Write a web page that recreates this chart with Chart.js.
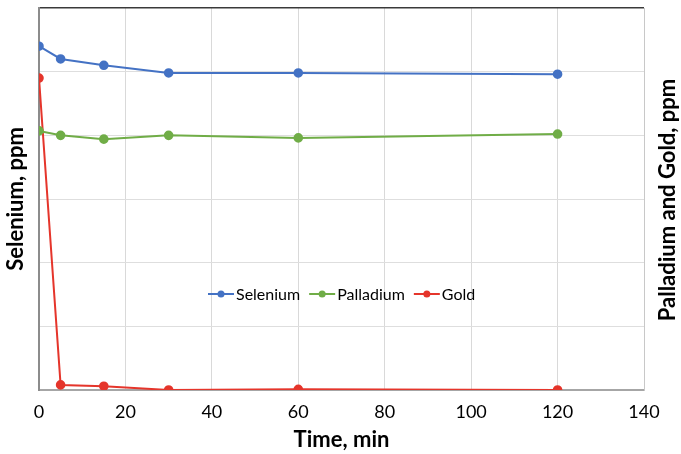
<!DOCTYPE html>
<html>
<head>
<meta charset="utf-8">
<script src="https://cdn.jsdelivr.net/npm/chart.js@4.4.1/dist/chart.umd.min.js"></script>
<style>
  html, body { margin: 0; padding: 0; background: #fff; }
  #wrap { width: 681px; height: 454px; }
</style>
</head>
<body>
<div id="wrap"><canvas id="chart-conc"></canvas></div>
<script>
// time points [min]
var timeMin = [0, 5, 15, 30, 60, 120];
// readings (no tick labels in the source, so axis units are relative)
var selenium = [5.40, 5.20, 5.10, 4.98, 4.98, 4.96];
var palladium = [4.07, 4.00, 3.94, 4.00, 3.96, 4.02];
var gold = [4.90, 0.08, 0.06, 0.00, 0.01, 0.00];

var xTicks = [0, 20, 40, 60, 80, 100, 120, 140];

var fontFam = "Lato, 'Open Sans', sans-serif";

function toPoints(arr) {
  return arr.map(function (v, i) { return { x: timeMin[i], y: v }; });
}

// legend sits inside the plot, and the right title reads bottom-to-top
var extrasPlugin = {
  id: 'extras',
  afterDraw: function (chart) {
    var ctx = chart.ctx;
    var area = chart.chartArea;
    ctx.save();

    // axis titles
    ctx.fillStyle = '#000';
    ctx.font = 'bold 22px ' + fontFam;
    ctx.textAlign = 'center';
    ctx.textBaseline = 'middle';
    ctx.fillText('Time, min', (area.left + area.right) / 2, 440);

    var midY = (area.top + area.bottom) / 2;
    ctx.save();
    ctx.translate(16, midY);
    ctx.rotate(-Math.PI / 2);
    ctx.fillText('Selenium, ppm', 0, 0);
    ctx.restore();

    ctx.save();
    ctx.translate(668, midY + 1);
    ctx.rotate(-Math.PI / 2);
    ctx.fillText('Palladium and Gold, ppm', 0, 0);
    ctx.restore();

    // legend
    ctx.font = '16px ' + fontFam;
    ctx.textAlign = 'left';
    var legY = 294;
    var x = 208;
    chart.data.datasets.forEach(function (ds) {
      ctx.strokeStyle = ds.borderColor;
      ctx.lineWidth = 2;
      ctx.beginPath();
      ctx.moveTo(x, legY);
      ctx.lineTo(x + 26, legY);
      ctx.stroke();
      ctx.fillStyle = ds.backgroundColor;
      ctx.beginPath();
      ctx.arc(x + 13, legY, 3.5, 0, Math.PI * 2);
      ctx.fill();
      ctx.fillStyle = '#000';
      ctx.fillText(ds.label, x + 28, legY + 1);
      x += 28 + ctx.measureText(ds.label).width + 9;
    });
    ctx.restore();
  }
};

var chart;

function initChart() {
  var ctx = document.getElementById('chart-conc').getContext('2d');
  chart = new Chart(ctx, {
    type: 'scatter',
    data: {
      datasets: [{
        label: 'Selenium',
        data: toPoints(selenium),
        borderColor: '#4472C4',
        backgroundColor: '#4472C4',
        borderWidth: 2,
        pointRadius: 3.8,
        showLine: true,
        yAxisID: 'y'
      },
      {
        label: 'Palladium',
        data: toPoints(palladium),
        borderColor: '#70AD47',
        backgroundColor: '#70AD47',
        borderWidth: 2,
        pointRadius: 3.8,
        showLine: true,
        yAxisID: 'y1'
      },
      {
        label: 'Gold',
        data: toPoints(gold),
        borderColor: '#E5352B',
        backgroundColor: '#E5352B',
        borderWidth: 2,
        pointRadius: 3.8,
        showLine: true,
        yAxisID: 'y1'
      }]
    },
    options: {
      responsive: true,
      maintainAspectRatio: false,
      animation: false,
      layout: { padding: { top: 8, left: 0, right: 0, bottom: 0 } },
      plugins: {
        legend: { display: false },
        tooltip: { enabled: false }
      },
      scales: {
        x: {
          type: 'linear',
          min: 0,
          max: 140,
          afterFit: function (s) { s.height = 64; },
          afterBuildTicks: function (s) {
            s.ticks = xTicks.map(function (v) { return { value: v }; });
          },
          ticks: {
            color: '#000',
            padding: 11,
            font: { family: fontFam, size: 18 }
          },
          grid: { color: '#d9d9d9', lineWidth: 1, drawTicks: false },
          border: { color: '#a6a6a6', width: 2 }
        },
        y: {
          type: 'linear',
          position: 'left',
          min: 0,
          max: 6,
          afterFit: function (s) { s.width = 39; },
          ticks: { display: false, stepSize: 1 },
          grid: {
            drawTicks: false,
            color: function (c) { return c.index === 6 ? '#3a3a3a' : '#dedede'; },
            lineWidth: function (c) { return c.index === 6 ? 1.5 : 1; }
          },
          border: { color: '#8c8c8c', width: 2 }
        },
        y1: {
          type: 'linear',
          position: 'right',
          min: 0,
          max: 6,
          afterFit: function (s) { s.width = 37; },
          ticks: { display: false, stepSize: 1 },
          grid: { drawOnChartArea: false, drawTicks: false },
          border: { color: '#c8c8c8', width: 1 }
        }
      }
    },
    plugins: [extrasPlugin]
  });
}

window.addEventListener('load', initChart);
</script>
</body>
</html>
